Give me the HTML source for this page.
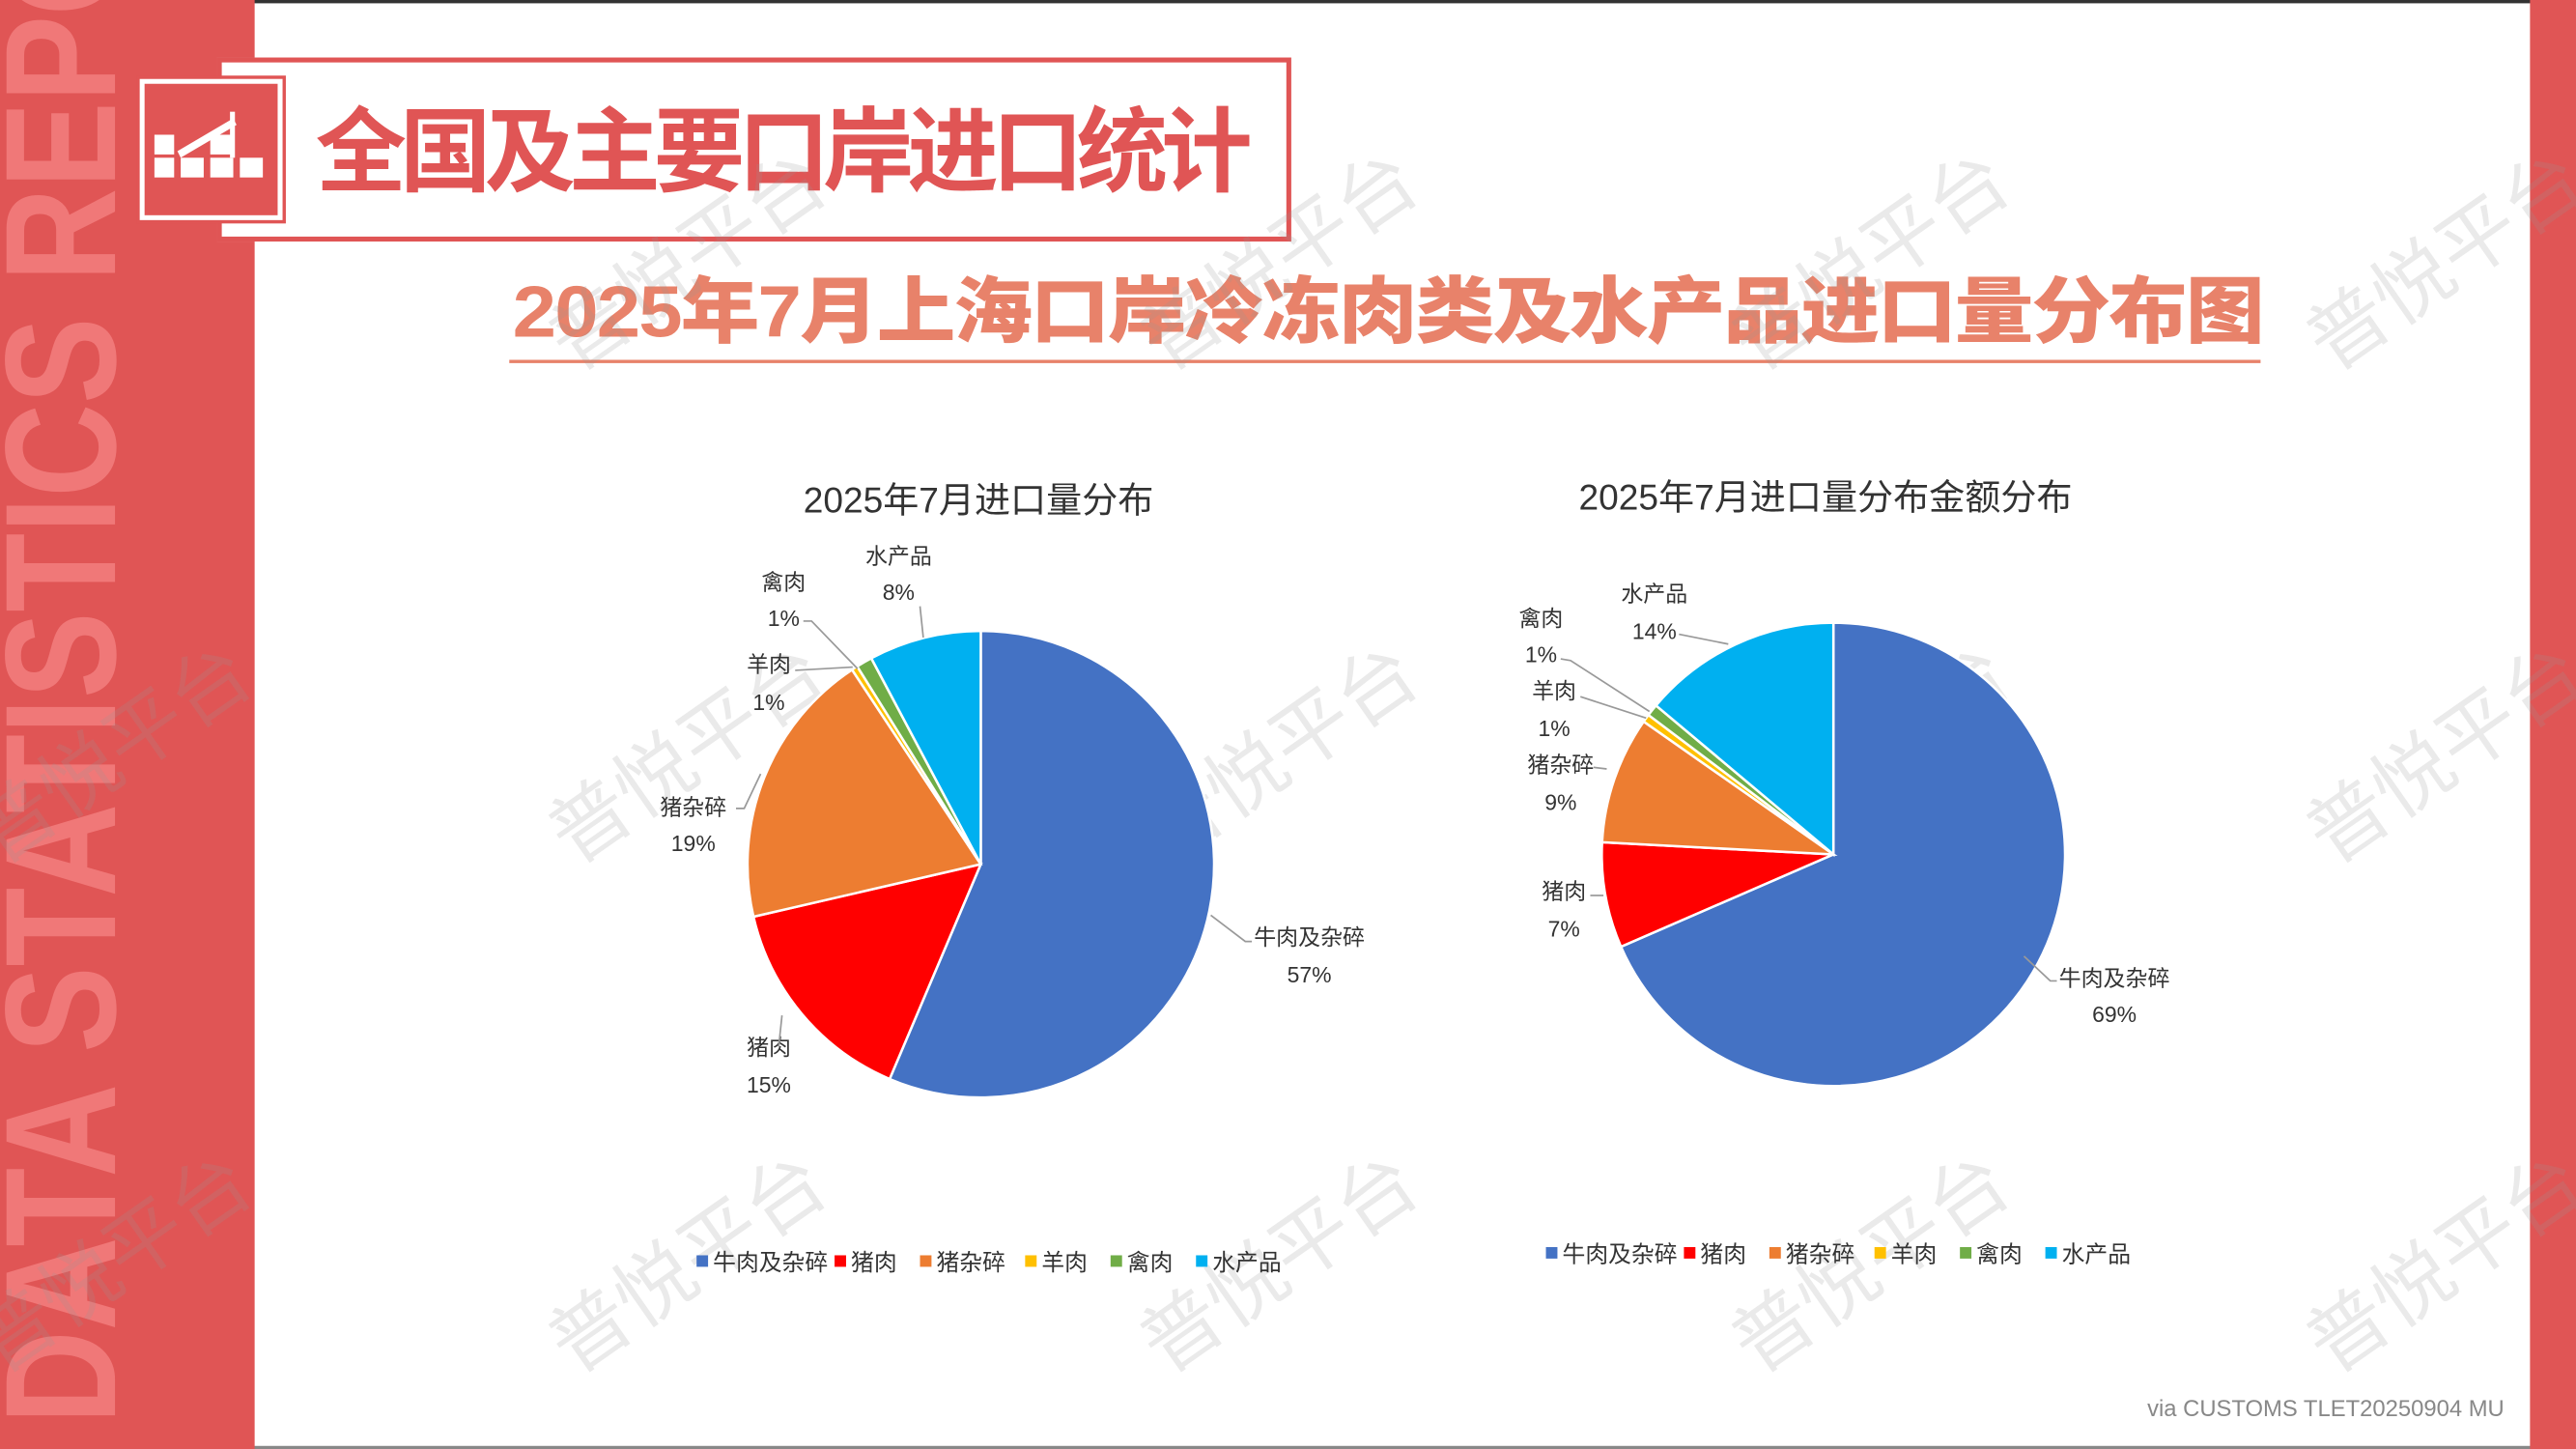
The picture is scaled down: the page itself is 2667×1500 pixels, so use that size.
<!DOCTYPE html>
<html><head><meta charset="utf-8">
<style>
html,body{margin:0;padding:0;width:2667px;height:1500px;overflow:hidden;background:#fff}
#s{position:absolute;left:0;top:0;width:1568px;height:882px;transform:scale(1.70089);transform-origin:0 0;background:#fff;font-family:"Liberation Sans","Noto Sans CJK SC",sans-serif;overflow:hidden}
.a{position:absolute;white-space:nowrap}
</style></head><body><div id="s">
<div class="a" style="left:0;top:0;width:1568px;height:2px;background:#333"></div>
<div class="a" style="left:0;top:880px;width:1568px;height:2px;background:#888"></div>
<div class="a" style="left:0;top:0;width:155px;height:882px;background:#E05555;overflow:hidden">
<div class="a" style="left:-403px;top:465px;width:882px;height:80px;transform:rotate(-90deg) scaleX(0.82);font:bold 96px 'Liberation Sans',sans-serif;color:#F07878;line-height:80px;text-align:center;transform-origin:center">DATA STATISTICS REPORT</div>
</div>
<div class="a" style="left:1540px;top:0;width:28px;height:882px;background:#E05555"></div>
<div class="a" style="left:132px;top:35px;width:648px;height:106px;border:3px solid #E05555;background:#fff"></div>
<div class="a" style="left:85px;top:48px;width:81px;height:80px;background:#E05555;border:3px solid #fff;outline:2px solid #E05555"></div>
<svg class="a" style="left:90px;top:62px" width="75" height="60"><g fill="#fff"><rect x="4" y="20" width="12" height="12"/><rect x="4" y="34" width="12" height="12"/><rect x="20" y="34" width="14" height="12"/><rect x="38" y="20" width="14" height="12"/><rect x="38" y="34" width="14" height="12"/><rect x="56" y="34" width="14" height="12"/><polygon points="18,30 52,10 54,14 20,34"/><rect x="50" y="6" width="3" height="28"/></g></svg>
<div class="a" style="left:192px;top:56px;font:bold 56px 'Noto Sans CJK SC',sans-serif;color:#E05555;letter-spacing:-4px;line-height:66px;transform:scaleX(0.99);transform-origin:left">全国及主要口岸进口统计</div>
<div class="a" style="left:312px;top:163px;font:900 44px 'Liberation Sans','Noto Sans CJK SC',sans-serif;color:#E8826A;letter-spacing:-1px;line-height:56px;transform:scaleX(1.09);transform-origin:left">2025年7月上海口岸冷冻肉类及水产品进口量分布图</div>
<div class="a" style="left:310px;top:219px;width:1066px;height:2px;background:#E8826A"></div>
<div class="a" style="left:0;top:0;width:1568px;height:882px;overflow:hidden;font:48px 'Noto Sans CJK SC',sans-serif;color:rgba(150,150,150,0.2)">
<span class="a" style="left:320px;top:120px;transform:rotate(-35deg)">普悦平台</span>
<span class="a" style="left:680px;top:120px;transform:rotate(-35deg)">普悦平台</span>
<span class="a" style="left:1040px;top:120px;transform:rotate(-35deg)">普悦平台</span>
<span class="a" style="left:1390px;top:120px;transform:rotate(-35deg)">普悦平台</span>
<span class="a" style="left:-30px;top:420px;transform:rotate(-35deg)">普悦平台</span>
<span class="a" style="left:320px;top:420px;transform:rotate(-35deg)">普悦平台</span>
<span class="a" style="left:680px;top:420px;transform:rotate(-35deg)">普悦平台</span>
<span class="a" style="left:1040px;top:420px;transform:rotate(-35deg)">普悦平台</span>
<span class="a" style="left:1390px;top:420px;transform:rotate(-35deg)">普悦平台</span>
<span class="a" style="left:-30px;top:730px;transform:rotate(-35deg)">普悦平台</span>
<span class="a" style="left:320px;top:730px;transform:rotate(-35deg)">普悦平台</span>
<span class="a" style="left:680px;top:730px;transform:rotate(-35deg)">普悦平台</span>
<span class="a" style="left:1040px;top:730px;transform:rotate(-35deg)">普悦平台</span>
<span class="a" style="left:1390px;top:730px;transform:rotate(-35deg)">普悦平台</span>
</div>
<svg id="pies" class="a" style="left:0;top:0" width="1568" height="882" font-family="Liberation Sans,Noto Sans CJK SC,sans-serif" font-size="13.5" fill="#333"></svg>
<div class="a" style="left:489px;top:288px;font:21.8px 'Liberation Sans','Noto Sans CJK SC',sans-serif;color:#333">2025年7月进口量分布</div>
<div class="a" style="left:961px;top:286px;font:21.8px 'Liberation Sans','Noto Sans CJK SC',sans-serif;color:#333">2025年7月进口量分布金额分布</div>
<div class="a" style="left:1307px;top:849px;font:14px 'Liberation Sans',sans-serif;color:#888">via CUSTOMS TLET20250904 MU</div>
<script>
var C=['#4472C4','#FF0000','#ED7D31','#FFC000','#70AD47','#00B0F0'];
var N=['牛肉及杂碎','猪肉','猪杂碎','羊肉','禽肉','水产品'];
var svg=document.getElementById('pies'),h='';
function pie(cx,cy,r,ang){var a0=0;for(var i=0;i<6;i++){var a1=ang[i];
var p=function(a){a=a*Math.PI/180;return [cx+r*Math.sin(a),cy-r*Math.cos(a)]};
var s=p(a0),e=p(a1);h+='<path d="M'+cx+','+cy+'L'+s[0].toFixed(2)+','+s[1].toFixed(2)+'A'+r+','+r+' 0 '+((a1-a0)>180?1:0)+' 1 '+e[0].toFixed(2)+','+e[1].toFixed(2)+'Z" fill="'+C[i]+'" stroke="#fff" stroke-width="1.5"/>';a0=a1;}}
pie(597,526,142,[203,257,326.5,328,332,360]);
pie(1116,520,141,[246.5,273,305,307,310,360]);
function t(x,y,s){h+='<text x="'+x+'" y="'+y+'" text-anchor="middle">'+s+'</text>';}
function l(pts){h+='<polyline points="'+pts+'" fill="none" stroke="#999" stroke-width="1"/>';}
t(797,575,'牛肉及杂碎');t(797,598,'57%');l('737,557 758,573 762,573');
t(468,642,'猪肉');t(468,665,'15%');l('474,637 476,618');
t(422,496,'猪杂碎');t(422,518,'19%');l('448,492 453,492 463,471');
t(468,409,'羊肉');t(468,432,'1%');l('484,408 519,406');
t(477,359,'禽肉');t(477,381,'1%');l('489,378 494,378 522,407');
t(547,343,'水产品');t(547,365,'8%');l('560,369 562,388');
t(1287,600,'牛肉及杂碎');t(1287,622,'69%');l('1232,582 1248,597 1252,597');
t(952,547,'猪肉');t(952,570,'7%');l('968,545 976,545');
t(950,470,'猪杂碎');t(950,493,'9%');l('970,467 978,468');
t(946,425,'羊肉');t(946,448,'1%');l('962,424 1002,437');
t(938,381,'禽肉');t(938,403,'1%');l('950,401 956,402 1004,433');
t(1007,366,'水产品');t(1007,389,'14%');l('1022,386 1052,392');
function leg(x,y){var ws=[84,52,64,52,52,64];for(var i=0;i<6;i++){h+='<rect x="'+x+'" y="'+(y-9)+'" width="7" height="7" fill="'+C[i]+'"/><text x="'+(x+10)+'" y="'+y+'" font-size="14">'+N[i]+'</text>';x+=ws[i];}}
leg(424,773);leg(941,768);
svg.innerHTML=h;
</script>
</div></body></html>
